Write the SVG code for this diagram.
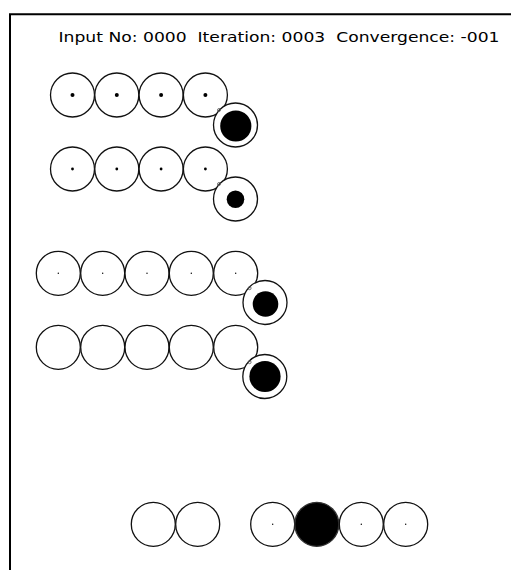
<svg xmlns="http://www.w3.org/2000/svg" width="511" height="570" viewBox="0 0 511 570">
<style>
.n{fill:#fff;stroke:#111;stroke-width:1.3}
.o{fill:#fff;stroke:#111;stroke-width:1.3}
.f{fill:#000}
.d{fill:#000}
.t{font-family:"DejaVu Sans",sans-serif;font-size:14px;fill:#000;white-space:pre}
.j{fill:none;stroke:#555;stroke-width:0.8}
</style>
<rect width="511" height="570" fill="#fff"/>
<path d="M10,570 V14.3 H511" fill="none" stroke="#000" stroke-width="2"/>
<text class="t" x="58.5" y="42" textLength="441" lengthAdjust="spacingAndGlyphs" xml:space="preserve">Input No: 0000  Iteration: 0003  Convergence: -001</text>
<g id="row1">
<g id="r1n1"><circle class="n" cx="72.5" cy="95" r="22"/><circle class="d" cx="72.5" cy="95" r="2"/></g>
<g id="r1n2"><circle class="n" cx="116.8" cy="95" r="22"/><circle class="d" cx="116.8" cy="95" r="2"/></g>
<g id="r1n3"><circle class="n" cx="161.1" cy="95" r="22"/><circle class="d" cx="161.1" cy="95" r="2"/></g>
<g id="r1n4"><circle class="n" cx="205.4" cy="95" r="22"/><circle class="d" cx="205.4" cy="95" r="2"/></g>
<g id="r1out"><circle class="o" cx="235.5" cy="125" r="22"/><circle class="f" cx="235.8" cy="126" r="15.6"/></g>
</g>
<g id="row2">
<g id="r2n1"><circle class="n" cx="72.5" cy="169" r="22"/><circle class="d" cx="72.5" cy="169" r="1.4"/></g>
<g id="r2n2"><circle class="n" cx="116.8" cy="169" r="22"/><circle class="d" cx="116.8" cy="169" r="1.4"/></g>
<g id="r2n3"><circle class="n" cx="161.1" cy="169" r="22"/><circle class="d" cx="161.1" cy="169" r="1.4"/></g>
<g id="r2n4"><circle class="n" cx="205.4" cy="169" r="22"/><circle class="d" cx="205.4" cy="169" r="1.4"/></g>
<g id="r2out"><circle class="o" cx="235.5" cy="199" r="22"/><circle class="f" cx="235.5" cy="199.2" r="8.8"/></g>
</g>
<g id="row3">
<g id="r3n1"><circle class="n" cx="58.3" cy="273.3" r="22"/><circle class="d" cx="58.3" cy="273.3" r="0.7"/></g>
<g id="r3n2"><circle class="n" cx="102.7" cy="273.3" r="22"/><circle class="d" cx="102.7" cy="273.3" r="0.7"/></g>
<g id="r3n3"><circle class="n" cx="147" cy="273.3" r="22"/><circle class="d" cx="147" cy="273.3" r="0.7"/></g>
<g id="r3n4"><circle class="n" cx="191.3" cy="273.3" r="22"/><circle class="d" cx="191.3" cy="273.3" r="0.7"/></g>
<g id="r3n5"><circle class="n" cx="235.7" cy="273.3" r="22"/><circle class="d" cx="235.7" cy="273.3" r="0.7"/></g>
<g id="r3out"><circle class="o" cx="265" cy="302.5" r="22"/><circle class="f" cx="265.5" cy="304" r="12.8"/></g>
</g>
<g id="row4">
<g id="r4n1"><circle class="n" cx="58.3" cy="347.3" r="22"/></g>
<g id="r4n2"><circle class="n" cx="102.7" cy="347.3" r="22"/></g>
<g id="r4n3"><circle class="n" cx="147" cy="347.3" r="22"/></g>
<g id="r4n4"><circle class="n" cx="191.3" cy="347.3" r="22"/></g>
<g id="r4n5"><circle class="n" cx="235.7" cy="347.3" r="22"/></g>
<g id="r4out"><circle class="o" cx="264.8" cy="376.5" r="22"/><circle class="f" cx="265" cy="376.5" r="15.6"/></g>
</g>
<g id="bottom">
<g id="b1"><circle class="n" cx="153.3" cy="524.3" r="22"/></g>
<g id="b2"><circle class="n" cx="197.7" cy="524.3" r="22"/></g>
<g id="b3"><circle class="n" cx="272.7" cy="524.3" r="22"/><circle class="d" cx="272.7" cy="524.3" r="0.7"/></g>
<g id="b4"><circle cx="316.8" cy="524.3" r="22" fill="#000" stroke="#333" stroke-width="1.3"/></g>
<g id="b5"><circle class="n" cx="361.3" cy="524.3" r="22"/><circle class="d" cx="361.3" cy="524.3" r="0.7"/></g>
<g id="b6"><circle class="n" cx="405.7" cy="524.3" r="22"/><circle class="d" cx="405.7" cy="524.3" r="0.7"/></g>
</g>
<g id="connectors">
<circle class="j" cx="219" cy="110" r="1.5"/>
<circle class="j" cx="219" cy="184" r="1.5"/>
<circle class="j" cx="249.6" cy="288.2" r="1.5"/>
<circle class="j" cx="249.6" cy="362.2" r="1.5"/>
</g>
</svg>
